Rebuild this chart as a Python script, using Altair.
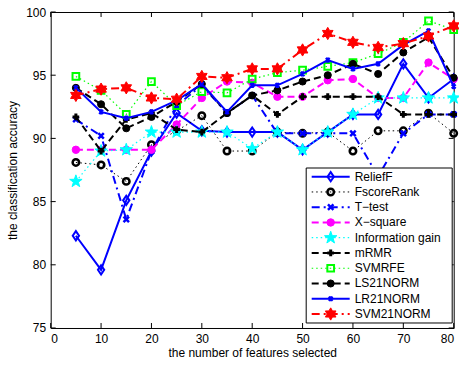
import math
import altair as alt
import pandas as pd

# Number of selected features
features = [5, 10, 15, 20, 25, 30, 35, 40, 45, 50, 55, 60, 65, 70, 75, 80]

# Classification accuracy (%) per method
relieff = [82.3, 79.6, 85.1, 89.0, 92.0, 90.6, 90.5, 90.5, 90.5, 89.1, 90.5, 91.9, 91.9, 95.9, 93.2, 94.7]
fscore_rank = [88.1, 87.9, 86.6, 89.5, 90.6, 91.8, 89.0, 89.0, 90.5, 90.4, 90.5, 89.0, 90.6, 90.6, 92.0, 90.4]
t_test = [91.5, 90.2, 83.6, 89.0, 92.6, 94.2, 92.0, 93.4, 90.4, 90.4, 90.4, 90.4, 87.0, 90.4, 91.9, 91.9]
x_square = [89.1, 89.1, 89.1, 89.1, 91.1, 93.2, 94.5, 94.4, 93.3, 93.3, 94.6, 94.7, 93.2, 93.2, 96.0, 94.7]
info_gain = [86.6, 89.0, 89.1, 90.5, 90.5, 90.5, 90.5, 89.2, 90.5, 89.1, 90.5, 91.9, 93.2, 93.2, 93.2, 93.2]
mrmr = [91.7, 89.0, 91.5, 92.0, 90.7, 90.5, 92.0, 93.4, 91.9, 93.3, 93.3, 93.3, 93.3, 91.9, 91.9, 91.9]
svmrfe = [94.9, 93.8, 91.9, 94.5, 92.6, 93.7, 93.6, 94.7, 95.2, 95.4, 95.7, 96.0, 96.7, 97.6, 99.3, 98.6]
ls21norm = [94.0, 92.7, 90.8, 91.7, 92.9, 94.3, 92.0, 93.4, 93.8, 94.5, 95.0, 95.9, 95.1, 96.8, 98.0, 94.8]
lr21norm = [94.0, 92.1, 91.6, 92.1, 93.0, 94.3, 92.1, 94.2, 94.2, 95.1, 96.2, 95.5, 95.9, 97.4, 98.5, 94.1]
svm21norm = [93.4, 93.9, 94.0, 93.2, 93.1, 94.9, 94.8, 95.5, 95.5, 97.0, 98.3, 97.6, 97.2, 97.5, 98.1, 98.9]

method_names = ["ReliefF", "FscoreRank", "T\u2212test", "X\u2212square", "Information gain",
                "mRMR", "SVMRFE", "LS21NORM", "LR21NORM", "SVM21NORM"]
method_values = [relieff, fscore_rank, t_test, x_square, info_gain,
                 mrmr, svmrfe, ls21norm, lr21norm, svm21norm]

x_ticks = [0, 10, 20, 30, 40, 50, 60, 70, 80]
y_ticks = [75, 80, 85, 90, 95, 100]


def star_path(points, inner):
    pts = []
    for k in range(2 * points):
        r = 1.0 if k % 2 == 0 else inner
        a = math.pi * k / points - math.pi / 2
        pts.append(f"{r * math.cos(a):.3f},{r * math.sin(a):.3f}")
    return "M" + "L".join(pts) + "Z"


PENTAGRAM = star_path(5, 0.40)
HEXAGRAM = star_path(6, 0.577)
XMARK = "M-1,-1L1,1M-1,1L1,-1"
PLUS = "M-1,0L1,0M0,-1L0,1"
ASTERISK = "M-1,-1L1,1M-1,1L1,-1M0,-1.3L0,1.3"
DIAMOND = "M0,-1.25L0.85,0L0,1.25L-0.85,0Z"

DASH = [7, 4]
DOT = [1.5, 3]
DASHDOT = [8, 4, 2, 4]

# color, dash, line width, marker shape, filled, marker size, marker stroke width
styles = {
    "ReliefF": ("#0000ff", None, 2.0, DIAMOND, False, 55, 2.0),
    "FscoreRank": ("#000000", DOT, 1.0, "circle", False, 42, 2.5),
    "T\u2212test": ("#0000ff", DASHDOT, 2.0, XMARK, False, 30, 2.5),
    "X\u2212square": ("#ff00ff", DASH, 2.0, "circle", True, 55, 1.0),
    "Information gain": ("#00ffff", DOT, 1.2, PENTAGRAM, True, 170, 1.0),
    "mRMR": ("#000000", DASH, 2.0, PLUS, False, 45, 3.0),
    "SVMRFE": ("#00ff00", DOT, 1.2, "square", False, 45, 2.0),
    "LS21NORM": ("#000000", DASH, 2.0, "circle", True, 50, 1.0),
    "LR21NORM": ("#0000ff", None, 2.0, ASTERISK, False, 16, 2.0),
    "SVM21NORM": ("#ff0000", DASHDOT, 2.0, HEXAGRAM, True, 150, 1.0),
}

rows = []
for name, vals in zip(method_names, method_values):
    for f, v in zip(features, vals):
        rows.append({"method": name, "features": f, "accuracy": v})
data = pd.DataFrame(rows)

W, H = 403, 316
FONT = "Liberation Sans"

xs = alt.Scale(domain=[0, 80], nice=False, zero=False)
ys = alt.Scale(domain=[75, 100], nice=False, zero=False)
x_axis = alt.Axis(values=x_ticks, ticks=False, domain=False, grid=False, labelPadding=6,
                  title="the number of features selected", titlePadding=3)
y_axis = alt.Axis(values=y_ticks, ticks=False, domain=False, grid=False, labelPadding=5,
                  title="the classification accuracy", titlePadding=6)

X = alt.X("features:Q", scale=xs, axis=x_axis)
Y = alt.Y("accuracy:Q", scale=ys, axis=y_axis)

base = alt.Chart(data)
plot_layers = []
for name in method_names:
    color, dash, lw, shape, filled, size, msw = styles[name]
    sub = base.transform_filter(alt.datum.method == name)
    line_kwargs = dict(color=color, strokeWidth=lw, clip=True)
    if dash:
        line_kwargs["strokeDash"] = dash
    plot_layers.append(sub.mark_line(**line_kwargs).encode(x=X, y=Y))
    if filled:
        pt = sub.mark_point(shape=shape, filled=True, fill=color, stroke=color,
                            strokeWidth=msw, size=size, opacity=1)
    else:
        pt = sub.mark_point(shape=shape, filled=False, stroke=color,
                            strokeWidth=msw, size=size, opacity=1)
    plot_layers.append(pt.encode(x=X, y=Y))

# Inward-pointing tick marks on all four sides
xt = alt.Chart(pd.DataFrame({"features": x_ticks}))
yt = alt.Chart(pd.DataFrame({"accuracy": y_ticks}))
tick_style = dict(color="black", strokeWidth=1)
ticks = [
    xt.mark_rule(**tick_style).encode(x=X, y=alt.value(H), y2=alt.value(H - 5)),
    xt.mark_rule(**tick_style).encode(x=X, y=alt.value(0), y2=alt.value(5)),
    yt.mark_rule(**tick_style).encode(y=Y, x=alt.value(0), x2=alt.value(5)),
    yt.mark_rule(**tick_style).encode(y=Y, x=alt.value(W), x2=alt.value(W - 5)),
]

plot = alt.layer(*ticks, *plot_layers)

# Legend box, drawn in the lower-right corner of the plot
legend_df = pd.DataFrame({"method": method_names})
ly = alt.Y("method:N", scale=alt.Scale(type="point", domain=method_names,
                                       range=[164.7, 302], padding=0), axis=None)
lbase = alt.Chart(legend_df)
legend_layers = [
    alt.Chart(pd.DataFrame({"k": [0]})).mark_rect(fill="white", stroke="black", strokeWidth=1)
    .encode(x=alt.value(255.5), x2=alt.value(401.5), y=alt.value(156), y2=alt.value(311))
]
for name in method_names:
    color, dash, lw, shape, filled, size, msw = styles[name]
    sub = lbase.transform_filter(alt.datum.method == name)
    line_kwargs = dict(color=color, strokeWidth=lw)
    if dash:
        line_kwargs["strokeDash"] = dash
    legend_layers.append(sub.mark_rule(**line_kwargs).encode(
        x=alt.value(261), x2=alt.value(299), y=ly))
    if filled:
        pt = sub.mark_point(shape=shape, filled=True, fill=color, stroke=color,
                            strokeWidth=msw, size=size, opacity=1)
    else:
        pt = sub.mark_point(shape=shape, filled=False, stroke=color,
                            strokeWidth=msw, size=size, opacity=1)
    legend_layers.append(pt.encode(x=alt.value(280), y=ly))
legend_layers.append(lbase.mark_text(align="left", baseline="middle", font=FONT, fontSize=12,
                                     color="black")
                     .encode(x=alt.value(304), y=ly, text="method:N"))
legend = alt.layer(*legend_layers)

chart = (
    alt.layer(plot, legend)
    .resolve_scale(y="independent")
    .properties(width=W, height=H, autosize=alt.AutoSizeParams(type="none"),
                padding={"left": 50.7, "top": 12, "right": 5, "bottom": 38},
                background="white")
    .configure_view(stroke="black", strokeWidth=1)
    .configure_axis(labelFont=FONT, titleFont=FONT, labelFontSize=12, titleFontSize=12,
                    labelColor="black", titleColor="black", titleFontWeight="normal")
)

chart.save("out.html", embed_options={"renderer": "svg", "actions": False})
